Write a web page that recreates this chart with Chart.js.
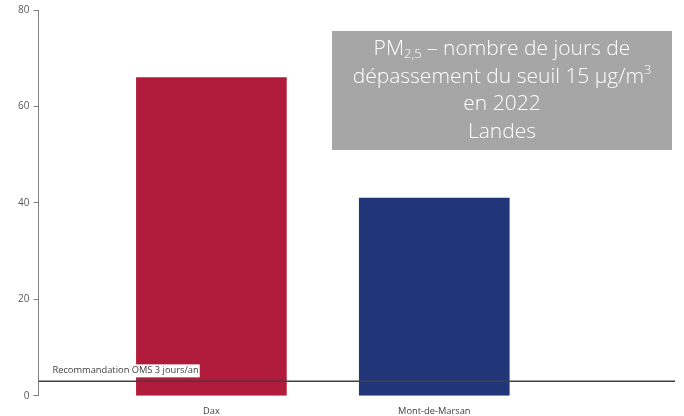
<!DOCTYPE html>
<html>
<head>
<meta charset="utf-8">
<script src="https://cdn.jsdelivr.net/npm/chart.js@4/dist/chart.umd.min.js"></script>
<style>
  html, body { margin: 0; padding: 0; background: #fff; }
  #wrap { width: 684px; height: 416px; }
</style>
</head>
<body>
<div id="wrap"><canvas id="c" width="684" height="416"></canvas></div>
<script>
// Sites and number of days above the PM2.5 daily threshold in 2022
const sites = ['Dax', 'Mont-de-Marsan'];
const daysOver = [66, 41];
const barColors = ['#B01B3B', '#213679'];
const yTicks = [0, 20, 40, 60, 80];
const omsValue = 3;
const omsLabel = 'Recommandation OMS 3 jours/an';
const titleLines = [
  [['PM', ''], ['2,5', 'sub'], [' – nombre de jours de', '']],
  [['dépassement du seuil 15 µg/m', ''], ['3', 'sup']],
  [['en 2022', '']],
  [['Landes', '']]
];

const xMin = -0.776, xMax = 2.08;
const FONT = "'Open Sans', 'Noto Sans', sans-serif";

// OMS recommendation label with a white backing
const omsLabelPlugin = {
  id: 'omsLabel',
  afterDatasetsDraw(chart) {
    const { ctx, chartArea, scales } = chart;
    const y = scales.y.getPixelForValue(omsValue);
    ctx.save();
    ctx.font = '9.3px ' + FONT;
    const x = chartArea.left + 14;
    const w = ctx.measureText(omsLabel).width;
    ctx.fillStyle = '#ffffff';
    ctx.fillRect(x - 1, y - 17, w + 2, 13);
    ctx.fillStyle = '#404040';
    ctx.textBaseline = 'alphabetic';
    ctx.fillText(omsLabel, x, y - 8);
    ctx.restore();
  }
};

// Grey title box with sub/superscripts
const titleBoxPlugin = {
  id: 'titleBox',
  afterDraw(chart) {
    const { ctx } = chart;
    const bx = 332, by = 31, bw = 340, bh = 119;
    ctx.save();
    ctx.fillStyle = '#A6A6A6';
    ctx.fillRect(bx, by, bw, bh);
    ctx.fillStyle = '#ffffff';
    ctx.textBaseline = 'alphabetic';
    const main = '300 21px ' + FONT;
    const small = '300 13px ' + FONT;
    const cx = bx + bw / 2;
    titleLines.forEach((parts, i) => {
      const base = 55 + i * 27.5;
      let total = 0;
      parts.forEach(([t, k]) => { ctx.font = k ? small : main; total += ctx.measureText(t).width; });
      let x = cx - total / 2;
      parts.forEach(([t, k]) => {
        ctx.font = k ? small : main;
        const dy = k === 'sub' ? 3 : (k === 'sup' ? -9 : 0);
        ctx.fillText(t, x, base + dy);
        x += ctx.measureText(t).width;
      });
    });
    ctx.restore();
  }
};

new Chart(document.getElementById('c'), {
  data: {
    datasets: [
      {
        type: 'bar',
        data: sites.map((s, i) => ({ x: i, y: daysOver[i] })),
        backgroundColor: barColors,
        barThickness: 150,
        order: 2
      },
      {
        type: 'line',
        data: [{ x: xMin, y: omsValue }, { x: xMax, y: omsValue }],
        borderColor: '#404040',
        borderWidth: 1.5,
        pointRadius: 0,
        order: 1
      }
    ]
  },
  options: {
    responsive: false,
    animation: false,
    layout: { padding: { top: 6, right: 9, left: 14, bottom: -3 } },
    plugins: { legend: { display: false }, tooltip: { enabled: false } },
    scales: {
      x: {
        type: 'linear',
        min: xMin,
        max: xMax,
        offset: false,
        grid: { display: false, offset: false },
        border: { display: false },
        afterBuildTicks(scale) { scale.ticks = sites.map((s, i) => ({ value: i })); },
        ticks: {
          autoSkip: false,
          maxRotation: 0,
          padding: 2,
          color: '#404040',
          font: { family: FONT, size: 9.3 },
          callback: (v) => sites[v] ?? ''
        }
      },
      y: {
        min: 0,
        max: 80,
        afterBuildTicks(scale) { scale.ticks = yTicks.map(v => ({ value: v })); },
        grid: { drawOnChartArea: false, drawTicks: true, tickLength: 5, color: '#808080' },
        border: { display: true, color: '#808080', width: 1 },
        ticks: {
          padding: 4,
          color: '#595959',
          font: { family: FONT, size: 10 }
        }
      }
    }
  },
  plugins: [omsLabelPlugin, titleBoxPlugin]
});
</script>
</body>
</html>
